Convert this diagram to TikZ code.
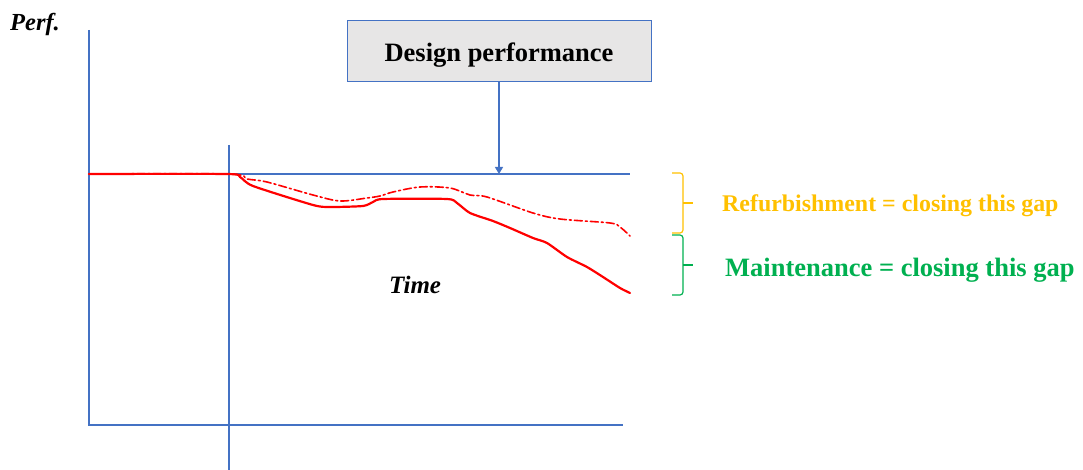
\documentclass[tikz,border=0pt]{standalone}
\usepackage{fontspec}
\setmainfont{Liberation Serif}
\usetikzlibrary{arrows.meta}
\definecolor{axisblue}{HTML}{4472C4}
\definecolor{boxgray}{HTML}{E7E6E6}
\definecolor{refyellow}{HTML}{FFC000}
\definecolor{maingreen}{HTML}{00B050}
\definecolor{curvered}{HTML}{FF0000}
\tikzset{
  axis/.style={draw=axisblue, line width=1.8pt},
  guide/.style={draw=axisblue, line width=1.2pt},
  perfcurve/.style={draw=curvered, line width=2.2pt, line join=round, line cap=round},
  gapbrace/.style={line width=1.2pt, rounded corners=3pt},
  label/.style={inner sep=0pt, font=\bfseries},
}
\begin{document}
\begin{tikzpicture}[x=1pt, y=-1pt]
\useasboundingbox (0,0) rectangle (1083,470);

% axes
\coordinate (origin) at (89,425);
\coordinate (ytop) at (89,30);
\coordinate (xend) at (623,425);
\draw[axis] (ytop) -- (origin) -- (xend);

% vertical marker at the start of degradation
\coordinate (vtop) at (229,145);
\coordinate (vbot) at (229,470);
\draw[guide] (vtop) -- (vbot);

% design performance level
\coordinate (dl) at (89,174);
\coordinate (dr) at (630,174);
\draw[guide] (dl) -- (dr);

% design performance box
\node[draw=axisblue, fill=boxgray, line width=1pt, minimum width=304pt, minimum height=61pt,
      inner sep=0pt, font=\fontsize{26.5}{30}\selectfont\bfseries] (dp) at (499,51.5)
      {\raisebox{-3.5pt}[\height][\depth]{Design performance}};
\coordinate (dptip) at (dp.south |- dl);
\draw[guide, -{Triangle[length=7pt,width=8pt]}] (dp.south) -- (dptip);

% refurbished curve (dash-dot)
\draw[perfcurve, line width=1.6pt, dash pattern=on 8pt off 3pt on 2pt off 3pt]
  plot[smooth, tension=0.5] coordinates {
   (89,174) (229,174) (247,179) (267,182) (313,195) (340,201) (367,198) (380,196)
   (393,192) (420,187) (450,188) (470,195) (487,197) (533,213) (560,219)
   (610,223) (620,227) (630,236)};

% actual curve (solid)
\draw[perfcurve]
  plot[smooth, tension=0.4] coordinates {
   (89,174) (227,174) (240,177) (253,186) (313,205) (330,207) (363,206)
   (373,202) (383,199) (447,199) (457,203) (470,213) (493,221) (510,228)
   (533,238) (547,243) (567,257) (587,267) (603,277) (620,288) (630,293)};

% axis labels
\node[label, font=\fontsize{24.5}{28}\selectfont\bfseries\itshape, anchor=west] (perf) at (10,24) {Perf.};
\node[label, font=\fontsize{25}{28}\selectfont\bfseries\itshape, anchor=west] (time) at (389,285) {Time};

% gap braces
\coordinate (ya) at (672,173);
\coordinate (yb) at (672,233);
\coordinate (ym) at (693,203);
\draw[gapbrace, draw=refyellow] (ya) -- (683,173) -- (683,233) -- (yb);
\draw[draw=refyellow, line width=1.2pt] (683,203) -- (ym);

\coordinate (ga) at (672,235);
\coordinate (gb) at (672,295);
\coordinate (gm) at (693,265);
\draw[gapbrace, draw=maingreen] (ga) -- (683,235) -- (683,295) -- (gb);
\draw[draw=maingreen, line width=1.2pt] (683,265) -- (gm);

% gap labels
\node[label, text=refyellow, font=\fontsize{23.9}{27}\selectfont\bfseries, anchor=west] (refurb) at (722,206) {Refurbishment = closing this gap};
\node[label, text=maingreen, font=\fontsize{26.5}{30}\selectfont\bfseries, anchor=west] (maint) at (725,270) {Maintenance = closing this gap};
\end{tikzpicture}
\end{document}
